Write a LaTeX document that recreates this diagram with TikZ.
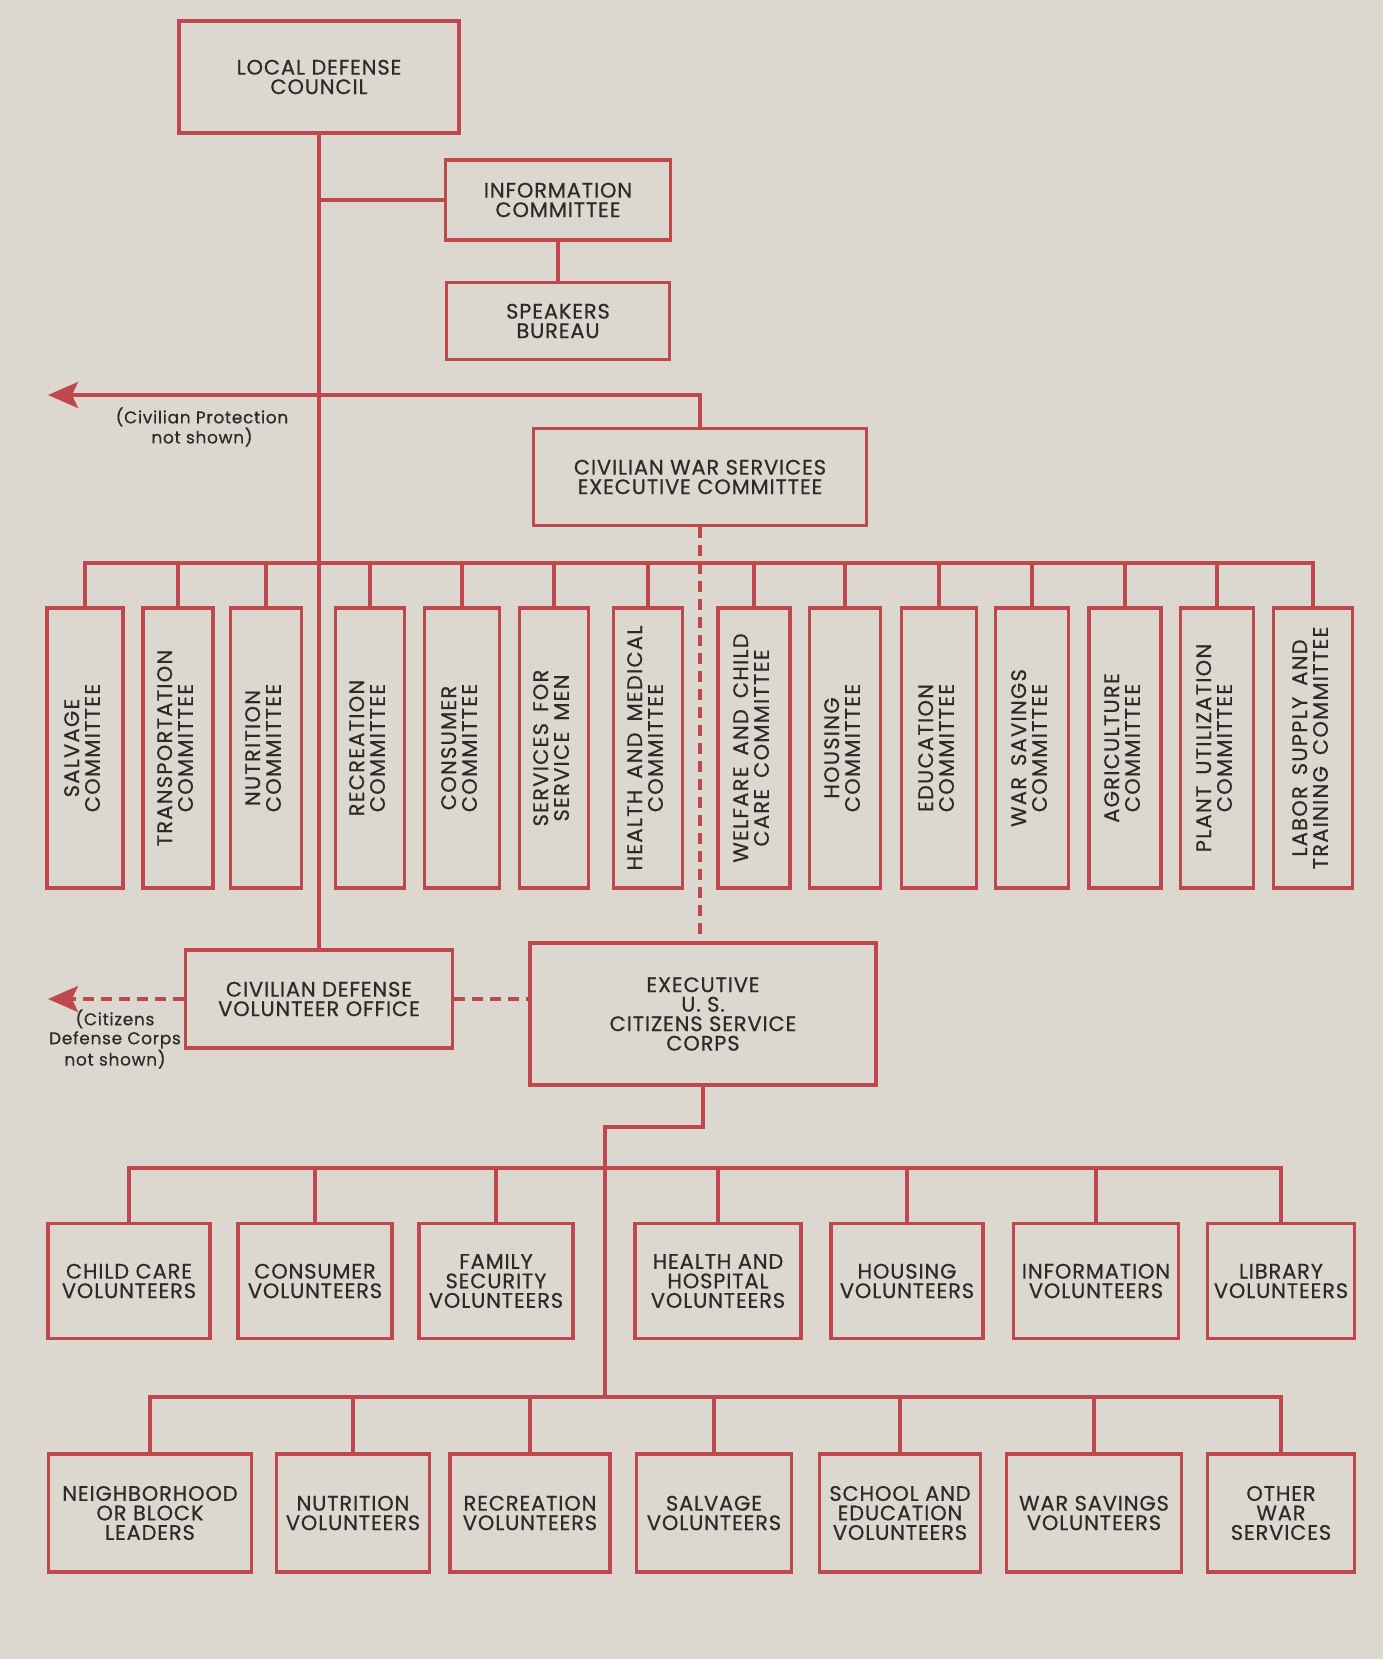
\documentclass[tikz,border=0pt]{standalone}
\usepackage{fontspec}
\setmainfont{Poppins}[FakeBold=0.6, LetterSpace=4]
\newfontfamily\wideface{Poppins}[FakeBold=0.6, LetterSpace=6, WordSpace=1.6]
\usepackage{graphicx}
\usepackage{tikz}
\usetikzlibrary{arrows.meta,positioning}
\usepackage{xcolor}
\definecolor{paper}{HTML}{DCD8D0}
\definecolor{chartred}{HTML}{BF474E}
\definecolor{ink}{HTML}{2E2A2A}
\newcommand{\uptext}[1]{\rotatebox{90}{\begin{tabular}{@{}c@{}}#1\end{tabular}}}

\begin{document}
\begin{tikzpicture}[
    x=1pt, y=-1pt,
    box/.style={draw=chartred, line width=3.4pt, rectangle, align=center, text=ink, inner sep=2pt, font=\fontsize{21}{19.5}\selectfont},
    vbox/.style={box, minimum height=280pt, font=\wideface\fontsize{21}{20}\selectfont},
    line/.style={draw=chartred, line width=3.3pt},
    link/.style={line, dash pattern=on 11pt off 7pt},
    note/.style={text=ink, align=center, font=\fontsize{17}{19}\selectfont},
    tip/.style={-{Stealth[length=30pt, width=26pt, inset=6pt]}}
]
    \fill[paper] (0,0) rectangle (1383,1659);

    % Council and information
    \node[box, minimum width=280pt, minimum height=112pt] (ldc) at (319,77) {LOCAL DEFENSE\\COUNCIL};
    \node[box, minimum width=225pt, minimum height=80pt] (info) at (558,200) {INFORMATION\\COMMITTEE};
    \node[box, minimum width=223pt, minimum height=77pt] (spkr) at (558,321) {SPEAKERS\\BUREAU};
    \node[box, minimum width=333pt, minimum height=97pt] (cwsec) at (700,477) {CIVILIAN WAR SERVICES\\EXECUTIVE COMMITTEE};
    \node[box, minimum width=267pt, minimum height=98pt] (cdvo) at (319,999) {CIVILIAN DEFENSE\\VOLUNTEER OFFICE};
    \node[box, minimum width=346pt, minimum height=142pt] (exec) at (703,1014) {EXECUTIVE\\U. S.\\CITIZENS SERVICE\\CORPS};

    \coordinate (cpend) at (48,395);
    \coordinate (cdend) at (48,999);
    \node[note] (cpnote) at (202,427) {(Civilian Protection\\not shown)};
    \node[note] (cdnote) at (115,1039) {(Citizens\\Defense Corps\\not shown)};

    \draw[line] (ldc.south) -- (cdvo.north);
    \draw[line] (info.west) -- (info.west -| ldc.south);
    \draw[line] (info.south) -- (spkr.north);
    \draw[line, tip] (cwsec.north) |- (cpend);
    \draw[link] (cwsec.south) -- (cwsec.south |- exec.north);
    \draw[link, tip] (cdvo.west) -- (cdend);
    \draw[link] (cdvo.east) -- (cdvo.east -| exec.west);

    % Committees
    \node[vbox, minimum width=76pt] (salv) at (85,748) {\uptext{SALVAGE\\COMMITTEE}};
    \node[vbox, minimum width=70pt] (trans) at (178,748) {\uptext{TRANSPORTATION\\COMMITTEE}};
    \node[vbox, minimum width=71pt] (nutr) at (266,748) {\uptext{NUTRITION\\COMMITTEE}};
    \node[vbox, minimum width=69pt] (recr) at (370,748) {\uptext{RECREATION\\COMMITTEE}};
    \node[vbox, minimum width=75pt] (cons) at (462,748) {\uptext{CONSUMER\\COMMITTEE}};
    \node[vbox, minimum width=69pt] (serv) at (554,748) {\uptext{SERVICES FOR\\SERVICE MEN}};
    \node[vbox, minimum width=69pt] (hlth) at (648,748) {\uptext{HEALTH AND MEDICAL\\COMMITTEE}};
    \node[vbox, minimum width=72pt] (welf) at (754,748) {\uptext{WELFARE AND CHILD\\CARE COMMITTEE}};
    \node[vbox, minimum width=71pt] (hous) at (845,748) {\uptext{HOUSING\\COMMITTEE}};
    \node[vbox, minimum width=75pt] (educ) at (939,748) {\uptext{EDUCATION\\COMMITTEE}};
    \node[vbox, minimum width=73pt] (wsav) at (1032,748) {\uptext{WAR SAVINGS\\COMMITTEE}};
    \node[vbox, minimum width=72pt] (agri) at (1125,748) {\uptext{AGRICULTURE\\COMMITTEE}};
    \node[vbox, minimum width=73pt] (plnt) at (1217,748) {\uptext{PLANT UTILIZATION\\COMMITTEE}};
    \node[vbox, minimum width=79pt] (labr) at (1313,748) {\uptext{LABOR SUPPLY AND\\TRAINING COMMITTEE}};

    \coordinate (cbus) at (0,563);
    \draw[line] (salv.north) |- (labr.north |- cbus) -- (labr.north);
    \draw[line] (trans.north) -- (trans.north |- cbus);
    \draw[line] (nutr.north) -- (nutr.north |- cbus);
    \draw[line] (recr.north) -- (recr.north |- cbus);
    \draw[line] (cons.north) -- (cons.north |- cbus);
    \draw[line] (serv.north) -- (serv.north |- cbus);
    \draw[line] (hlth.north) -- (hlth.north |- cbus);
    \draw[line] (welf.north) -- (welf.north |- cbus);
    \draw[line] (hous.north) -- (hous.north |- cbus);
    \draw[line] (educ.north) -- (educ.north |- cbus);
    \draw[line] (wsav.north) -- (wsav.north |- cbus);
    \draw[line] (agri.north) -- (agri.north |- cbus);
    \draw[line] (plnt.north) -- (plnt.north |- cbus);

    % Volunteers, first row
    \node[box, minimum width=162pt, minimum height=115pt] (chld) at (129,1281) {CHILD CARE\\VOLUNTEERS};
    \node[box, minimum width=154pt, minimum height=115pt] (cvol) at (315,1281) {CONSUMER\\VOLUNTEERS};
    \node[box, minimum width=154pt, minimum height=115pt] (fam) at (496,1281) {FAMILY\\SECURITY\\VOLUNTEERS};
    \node[box, minimum width=166pt, minimum height=115pt] (hhv) at (718,1281) {HEALTH AND\\HOSPITAL\\VOLUNTEERS};
    \node[box, minimum width=152pt, minimum height=115pt] (hvol) at (907,1281) {HOUSING\\VOLUNTEERS};
    \node[box, minimum width=165pt, minimum height=115pt] (ivol) at (1096,1281) {INFORMATION\\VOLUNTEERS};
    \node[box, minimum width=147pt, minimum height=115pt] (lvol) at (1281,1281) {LIBRARY\\VOLUNTEERS};

    % Volunteers, second row
    \node[box, minimum width=203pt, minimum height=118pt] (nbhd) at (150,1513) {NEIGHBORHOOD\\OR BLOCK\\LEADERS};
    \node[box, minimum width=153pt, minimum height=118pt] (nvol) at (353,1513) {NUTRITION\\VOLUNTEERS};
    \node[box, minimum width=160pt, minimum height=118pt] (rvol) at (530,1513) {RECREATION\\VOLUNTEERS};
    \node[box, minimum width=155pt, minimum height=118pt] (svol) at (714,1513) {SALVAGE\\VOLUNTEERS};
    \node[box, minimum width=161pt, minimum height=118pt] (sch) at (900,1513) {SCHOOL AND\\EDUCATION\\VOLUNTEERS};
    \node[box, minimum width=175pt, minimum height=118pt] (wvol) at (1094,1513) {WAR SAVINGS\\VOLUNTEERS};
    \node[box, minimum width=147pt, minimum height=118pt] (oth) at (1281,1513) {OTHER\\WAR\\SERVICES};

    \coordinate (vjog) at (605,1127);
    \coordinate (vbus1) at (605,1168);
    \coordinate (vbus2) at (605,1397);
    \draw[line] (exec.south) |- (vjog) -- (vbus2);

    \draw[line] (chld.north) |- (lvol.north |- vbus1) -- (lvol.north);
    \draw[line] (cvol.north) -- (cvol.north |- vbus1);
    \draw[line] (fam.north) -- (fam.north |- vbus1);
    \draw[line] (hhv.north) -- (hhv.north |- vbus1);
    \draw[line] (hvol.north) -- (hvol.north |- vbus1);
    \draw[line] (ivol.north) -- (ivol.north |- vbus1);

    \draw[line] (nbhd.north) |- (oth.north |- vbus2) -- (oth.north);
    \draw[line] (nvol.north) -- (nvol.north |- vbus2);
    \draw[line] (rvol.north) -- (rvol.north |- vbus2);
    \draw[line] (svol.north) -- (svol.north |- vbus2);
    \draw[line] (sch.north) -- (sch.north |- vbus2);
    \draw[line] (wvol.north) -- (wvol.north |- vbus2);
\end{tikzpicture}
\end{document}
